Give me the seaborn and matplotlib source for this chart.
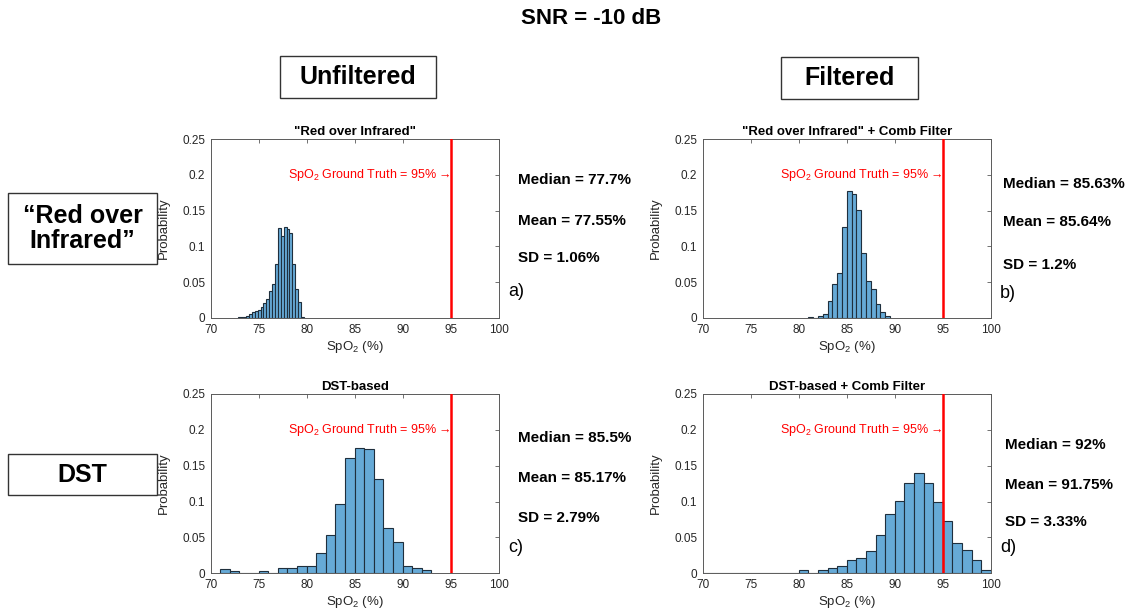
import numpy as np
import pandas as pd
import matplotlib
matplotlib.use("Agg")
import matplotlib.pyplot as plt
import seaborn as sns
from matplotlib.patches import Rectangle
from matplotlib.ticker import FuncFormatter

# ---------------- data ----------------
# a) "Red over Infrared" (unfiltered): bins of 0.3 starting at 72.8
a_first_edge, a_bin_width = 72.8, 0.3
a_prob = [0.002, 0.001, 0.002, 0.003, 0.005, 0.008, 0.010, 0.011, 0.015, 0.021,
          0.027, 0.038, 0.047, 0.075, 0.126, 0.115, 0.127, 0.125, 0.119, 0.076,
          0.040, 0.022, 0.002]
# b) "Red over Infrared" + Comb Filter: bins of 0.5 starting at 81
b_first_edge, b_bin_width = 81.0, 0.5
b_prob = [0.001, 0.0005, 0.003, 0.005, 0.024, 0.047, 0.063, 0.127, 0.177, 0.173,
          0.151, 0.091, 0.052, 0.041, 0.019, 0.009, 0.003]
# c) DST-based: bins of 1 starting at 71
c_first_edge, c_bin_width = 71.0, 1.0
c_prob = [0.006, 0.003, 0.0, 0.001, 0.003, 0.001, 0.007, 0.007, 0.010, 0.010,
          0.028, 0.054, 0.096, 0.161, 0.175, 0.174, 0.131, 0.063, 0.044, 0.010,
          0.008, 0.004]
# d) DST-based + Comb Filter: bins of 1 starting at 70
d_first_edge, d_bin_width = 70.0, 1.0
d_prob = [0.001, 0.0, 0.0, 0.0, 0.0, 0.0, 0.0, 0.0, 0.0, 0.001,
          0.004, 0.001, 0.005, 0.008, 0.010, 0.019, 0.022, 0.031, 0.053, 0.083,
          0.101, 0.126, 0.140, 0.126, 0.100, 0.073, 0.042, 0.032, 0.018, 0.005]

panel_titles = ['"Red over Infrared"', '"Red over Infrared" + Comb Filter',
                'DST-based', 'DST-based + Comb Filter']
medians = ["77.7", "85.63", "85.5", "92"]
means = ["77.55", "85.64", "85.17", "91.75"]
sds = ["1.06", "1.2", "2.79", "3.33"]
letters = ["a)", "b)", "c)", "d)"]
ground_truth = 95
x_ticks = [70, 75, 80, 85, 90, 95, 100]
y_ticks = [0, 0.05, 0.1, 0.15, 0.2, 0.25]

main_title = "SNR = -10 dB"
column_labels = ["Unfiltered", "Filtered"]
row_labels = ["\u201cRed over\nInfrared\u201d", "DST"]

# ---------------- style ----------------
sns.set_style("white")
FONT = ["Liberation Sans", "DejaVu Sans"]
plt.rcParams["font.family"] = FONT
plt.rcParams["text.color"] = "black"
plt.rcParams["mathtext.fontset"] = "custom"
plt.rcParams["mathtext.rm"] = "Liberation Sans"
plt.rcParams["mathtext.it"] = "Liberation Sans:italic"
plt.rcParams["mathtext.bf"] = "Liberation Sans:bold"

W, H = 1147, 616
fig = plt.figure(figsize=(W / 100, H / 100), dpi=100)
fig.patch.set_facecolor("white")


def fx(px):
    return px / W


def fy(py):
    return 1 - py / H


# axes rectangles in pixels: left, top, right, bottom
axes_px = [(210.7, 139, 498.7, 318),
           (702.7, 139, 990.7, 318),
           (210.7, 394, 498.7, 573.3),
           (702.7, 394, 990.7, 573.3)]

panels = [(a_first_edge, a_bin_width, a_prob),
          (b_first_edge, b_bin_width, b_prob),
          (c_first_edge, c_bin_width, c_prob),
          (d_first_edge, d_bin_width, d_prob)]

face = "#66aad7"
edge = "#1f2f3d"
spine_col = "#5a5a5a"
tick_col = "#262626"
red = "#ff0000"

for i, ((l, t, r, b), (e0, bw, prob)) in enumerate(zip(axes_px, panels)):
    ax = fig.add_axes([fx(l), fy(b), (r - l) / W, (b - t) / H])
    n = len(prob)
    edges = [float(e) for e in e0 + bw * np.arange(n + 1)]
    centers = [e + bw / 2 for e in edges[:-1]]
    df = pd.DataFrame({"spo2": centers, "prob": prob})
    sns.histplot(data=df, x="spo2", weights="prob", bins=edges, stat="count",
                 ax=ax, color=face, edgecolor=edge, linewidth=0.8, alpha=1)
    ax.axvline(ground_truth, color=red, lw=1.8, zorder=5)
    ax.text(ground_truth, 0.2, "SpO$_2$ Ground Truth = 95% \u2192", ha="right",
            va="center", color=red, fontsize=9, family=FONT, zorder=6)
    ax.set_xlim(70, 100)
    ax.set_ylim(0, 0.25)
    ax.set_xticks(x_ticks)
    ax.set_yticks(y_ticks)
    ax.yaxis.set_major_formatter(FuncFormatter(lambda v, p: f"{v:g}"))
    ax.tick_params(direction="in", top=True, right=True, length=3, width=0.6,
                   colors=spine_col, labelcolor=tick_col, labelsize=8.5, pad=4)
    for s in ax.spines.values():
        s.set_visible(True)
        s.set_color(spine_col)
        s.set_linewidth(0.7)
    ax.set_ylabel("Probability", fontsize=9.5, color=tick_col)
    ax.yaxis.set_label_coords(-0.141, 0.5)
    ax.set_xlabel("SpO$_2$ (%)", fontsize=9.5, color=tick_col)
    ax.xaxis.set_label_coords(0.5, -0.115)
    ax.set_title(panel_titles[i], fontsize=9.5, fontweight="bold", pad=3,
                 color="black")

# statistics texts: (x, y_median, y_mean, y_sd, x_letter, y_letter)
stat_pos = [(518, 180, 221, 258, 508, 292),
            (1003, 184, 222, 265, 1000, 293),
            (518, 438, 478, 518, 508, 548),
            (1005, 445, 485, 522, 1000, 548)]
for i, (x, y1, y2, y3, xl, yl) in enumerate(stat_pos):
    kw = dict(fontsize=11, fontweight="bold", ha="left", va="center",
              family=FONT, color="black")
    fig.text(fx(x), fy(y1), f"Median = {medians[i]}%", **kw)
    fig.text(fx(x), fy(y2), f"Mean = {means[i]}%", **kw)
    fig.text(fx(x), fy(y3), f"SD = {sds[i]}%", **kw)
    fig.text(fx(xl), fy(yl), letters[i], fontsize=13, ha="left", va="center",
             family=FONT, color="black")

# main title
fig.text(fx(591), fy(18), main_title, fontsize=16, fontweight="bold",
         ha="center", va="center", family=FONT, color="black")

# boxed labels: (left, top, right, bottom)
box_px = [(280, 56, 436, 98), (781, 57, 918, 99),
          (8, 193, 157, 264), (8, 454, 157, 495)]
box_text = column_labels + row_labels
for (l, t, r, b), txt in zip(box_px, box_text):
    fig.patches.append(Rectangle((fx(l), fy(b)), (r - l) / W, (b - t) / H,
                                 transform=fig.transFigure, facecolor="white",
                                 edgecolor="#333333", lw=1.0))
    fig.text(fx((l + r) / 2), fy((t + b) / 2), txt, fontsize=18,
             fontweight="bold", ha="center", va="center", family=FONT,
             linespacing=1.1, color="black")

fig.savefig("out.png", dpi=100, facecolor="white")
